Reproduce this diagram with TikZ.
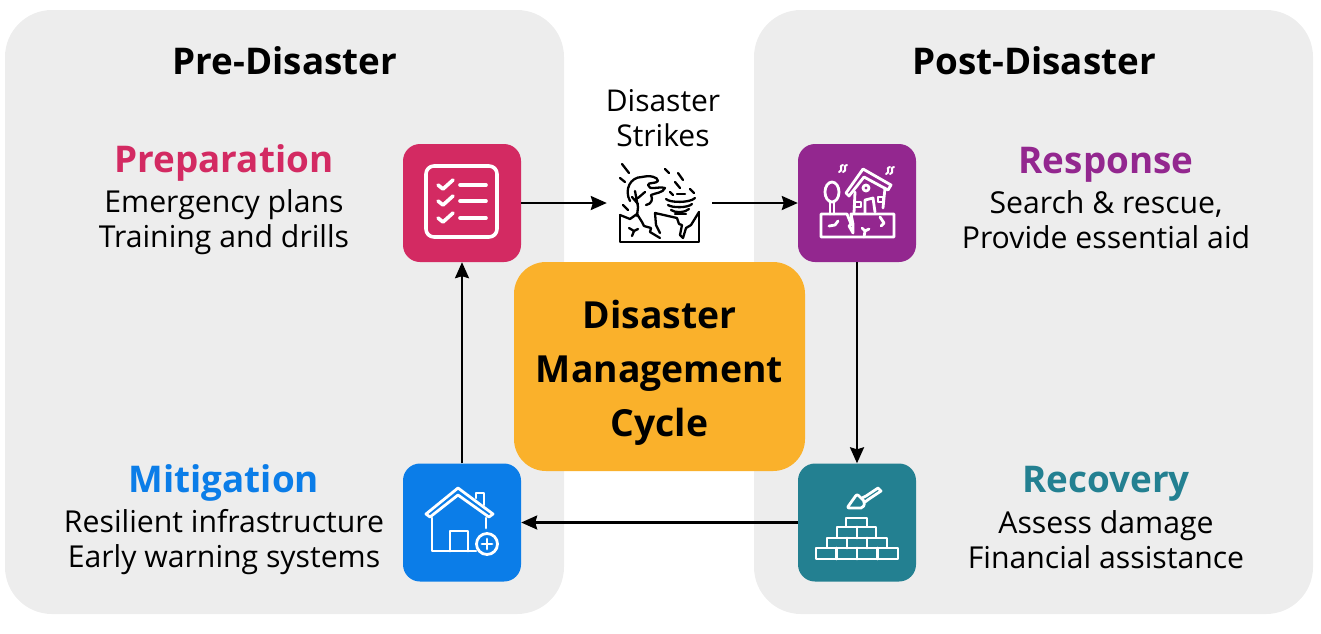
\documentclass[tikz,border=0pt]{standalone}
\usepackage{fontspec}
\setmainfont{Open Sans}
\definecolor{panelgray}{HTML}{EDEDED}
\definecolor{prepcolor}{HTML}{D32A62}
\definecolor{respcolor}{HTML}{93278F}
\definecolor{mitcolor}{HTML}{0B7DE8}
\definecolor{reccolor}{HTML}{238091}
\definecolor{cyclecolor}{HTML}{FAB12B}
\tikzset{
    panel/.style={fill=panelgray, rounded corners=47pt, minimum width=559pt, minimum height=604pt},
    iconbox/.style={rounded corners=17pt, minimum width=118pt, minimum height=118pt},
    head/.style={font=\bfseries\fontsize{36.8}{42}\selectfont},
    phase/.style={font=\bfseries\fontsize{36.8}{42}\selectfont},
    body/.style={font=\fontsize{30.2}{35}\selectfont, align=center},
    flow/.style={-{Stealth[length=16pt,width=14pt,inset=2pt]}, line width=2.3pt, black},
    wicon/.style={white, line width=2.8pt, line join=round, line cap=round},
    kicon/.style={black, line width=2.3pt, line join=round, line cap=round}
}
\usetikzlibrary{arrows.meta}
\begin{document}
\begin{tikzpicture}[x=1pt, y=-1pt]
    \useasboundingbox (0,0) rectangle (1321,633);

    % panels
    \node[panel] (pre) at (284.5,312) {};
    \node[panel] (post) at (1033.5,312) {};
    \node[head] (pretitle) at (285,61) {Pre-Disaster};
    \node[head] (posttitle) at (1034,61) {Post-Disaster};

    % boxes
    \node[iconbox, fill=prepcolor] (prep) at (462,203) {};
    \node[iconbox, fill=respcolor] (resp) at (857,203) {};
    \node[iconbox, fill=mitcolor] (mit) at (462,522.5) {};
    \node[iconbox, fill=reccolor] (rec) at (857,522.5) {};
    \node[minimum width=105pt, minimum height=84pt, inner sep=0pt] (strike) at (659.5,203) {};
    \node[font=\fontsize{30}{35}\selectfont, align=center] (striketext) at (663,118.5) {Disaster\\Strikes};

    % arrows
    \draw[flow] (prep) -- (strike);
    \draw[flow] (strike) -- (resp);
    \draw[flow] (resp) -- (rec);
    \draw[flow] (rec) -- (mit);
    \draw[flow] (mit) -- (prep);

    \node[fill=cyclecolor, rounded corners=32pt, minimum width=291pt, minimum height=209pt] (cycle) at (659.5,366.5) {};
    \node[align=center, font=\bfseries\fontsize{37.3}{54}\selectfont] (cycletext) at (659.5,373) {Disaster\\Management\\Cycle};

    % texts
    \node[phase, prepcolor] (preptitle) at (224,163) {Preparation};
    \node[body] (preptext) at (224,222.5) {Emergency plans\\Training and drills};
    \node[phase, respcolor] (resptitle) at (1106,165) {Response};
    \node[body] (resptext) at (1106,219.5) {Search \& rescue,\\Provide essential aid};
    \node[phase, mitcolor] (mittitle) at (224,483) {Mitigation};
    \node[body] (mittext) at (224,542.5) {Resilient infrastructure\\Early warning systems};
    \node[phase, reccolor] (rectitle) at (1106,484) {Recovery};
    \node[body] (rectext) at (1106,539.5) {Assess damage\\Financial assistance};

    % checklist
    \draw[wicon, line width=3.6pt, rounded corners=8pt] (426,166) rectangle (497,237);
    \foreach \y in {185,201,218} {
        \draw[wicon, line width=3.6pt] (438,\y) -- (443,\y+4) -- (453,\y-5);
        \draw[wicon, line width=3.6pt] (460,\y) -- (486,\y);
    }

    % tornado and broken ground
    \draw[kicon] (620,215) -- (630,219) -- (637,214) -- (642,222) -- (644,226) -- (651,228) -- (650,232) -- (660,238);
    \draw[kicon] (660,233) -- (656,225) -- (655,213) -- (677,218) -- (679,224) -- (682,225) -- (680,235) -- (683,238) -- (686,228) -- (691,225) -- (699,212);
    \draw[kicon] (620,215) -- (620,242) -- (699,242) -- (699,212);
    \draw[kicon] (629,228) -- (634,231) -- (632,236) (634,231) -- (638,229);
    \draw[kicon] (630,201) .. controls (624,190) and (630,177) .. (642,177) .. controls (650,175) and (658,177) .. (658,181)
        .. controls (656,184) and (648,182) .. (648,185) .. controls (649,191) and (658,186) .. (665,188)
        .. controls (663,193) and (655,193) .. (651,195) .. controls (653,199) and (652,204) .. (646,205);
    \draw[kicon] (635,191) -- (638,207) -- (637,216) (638,198) -- (645,192) (638,204) -- (632,197);
    \foreach \xa/\ya/\xb/\yb in {622/164/629/173, 620/178/625/182, 623/205/628/210, 665/169/669/173, 678/173/683/180, 670/192/673/195, 690/189/694/193, 675/182/680/188} {
        \draw[kicon] (\xa,\ya) -- (\xb,\yb);
    }
    \draw[kicon] (666,199) .. controls (670,203) and (690,203) .. (695,198);
    \draw[kicon] (677,194) -- (685,194);
    \draw[kicon] (668,205) .. controls (672,208) and (688,208) .. (692,204);
    \draw[kicon] (671,210) .. controls (675,213) and (685,213) .. (689,209);
    \draw[kicon] (675,214) -- (686,214);

    % broken house
    \draw[wicon] (821,214) -- (847,214) -- (851,224) -- (849,226) -- (853,233) -- (853,224) -- (851,214) -- (894,214) -- (894,237) -- (821,237) -- cycle;
    \draw[wicon] (830,201) -- (830,214) (834,201) -- (834,214);
    \draw[wicon] (832,192) ellipse (7 and 10);
    \draw[wicon] (846,193) -- (863,169) -- (891,185) -- (888,190) -- (864,177) -- (849,196) -- cycle;
    \draw[wicon] (855,192) -- (854,213) (885,188) -- (883,208);
    \draw[wicon] (866,188) circle (3);
    \draw[wicon] (865,213) -- (865,200) -- (873,198) -- (875,212);
    \draw[wicon] (855,202) rectangle (861,207);
    \draw[wicon] (878,197) rectangle (883,202);
    \draw[wicon] (829,226) -- (835,225) -- (838,221) (880,217) -- (884,223) -- (881,226) (864,237) -- (865,231) -- (862,228) (865,231) -- (869,229);
    \foreach \x/\y in {841/169, 845/169, 888/171, 892/171} {
        \draw[wicon, line width=2pt] (\x+2,\y-4) .. controls (\x-3,\y-4) and (\x+3,\y+2) .. (\x-2,\y+3);
    }

    % house with plus
    \draw[wicon] (426,514) -- (458,488) -- (493,514) -- (489,517) -- (458,495) -- (430,517) -- cycle;
    \draw[wicon] (476,498) -- (476,493) -- (484,493) -- (484,505);
    \draw[wicon] (432,518) -- (432,551) -- (476,551) (486,518) -- (486,528);
    \draw[wicon] (450,551) -- (450,531) -- (468,531) -- (468,551);
    \draw[wicon] (487,544) circle (10.5);
    \draw[wicon] (482,544) -- (492,544) (487,539) -- (487,549);

    % bricks and trowel
    \draw[wicon] (816,548) rectangle (898,559);
    \foreach \x in {836.5,857,877.5} {
        \draw[wicon] (\x,548) -- (\x,559);
    }
    \draw[wicon] (827,538) rectangle (887,548);
    \foreach \x in {847,867} {
        \draw[wicon] (\x,538) -- (\x,548);
    }
    \draw[wicon] (837,527) rectangle (876,538);
    \draw[wicon] (857,527) -- (857,538);
    \draw[wicon] (846,518) rectangle (867,527);
    \draw[wicon, rounded corners=2pt] (847,508) -- (857,494) -- (865,502) -- (863,508) -- cycle;
    \draw[wicon] (862,498) -- (866,496) -- (878,488) -- (881,491) -- (869,499) -- (865,502);
\end{tikzpicture}
\end{document}
